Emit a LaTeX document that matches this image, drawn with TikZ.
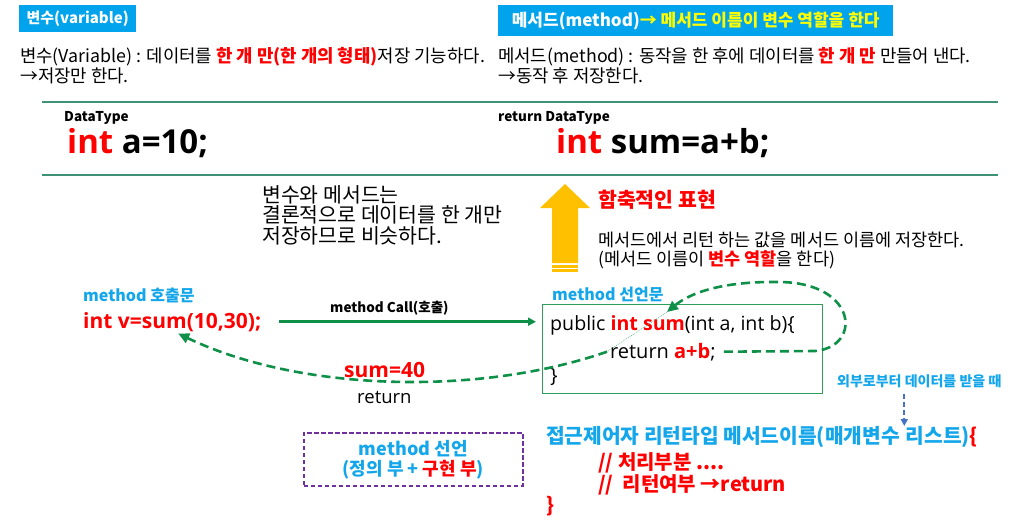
\documentclass[tikz,border=0pt]{standalone}
\usepackage{fontspec}
\setmainfont{Noto Sans CJK KR}
\newfontfamily\codefont{Open Sans}
\usetikzlibrary{positioning, arrows.meta, calc}
\definecolor{cHDR}{HTML}{00A3EC}
\definecolor{cBLUE}{HTML}{14A6EA}
\definecolor{cRED}{HTML}{FF0000}
\definecolor{cYEL}{HTML}{FFFF00}
\definecolor{cRULE}{HTML}{3F9177}
\definecolor{cBOX}{HTML}{2E9F5A}
\definecolor{cFLOW}{HTML}{0E9048}
\definecolor{cARROW}{HTML}{FFC000}
\definecolor{cHINT}{HTML}{4472C4}
\definecolor{cPURPLE}{HTML}{7030A0}
\newcommand{\setfs}[2]{\fontsize{#1}{#2}\selectfont}
\newcommand{\redb}[1]{{\color{cRED}\bfseries #1}}
\tikzset{
  hdrbox/.style={fill=cHDR, text=white, anchor=north west, inner sep=0pt},
  txt/.style n args={2}{anchor=north west, inner sep=0pt, align=left, font=\setfs{#1}{#2}},
  btxt/.style n args={2}{anchor=north west, inner sep=0pt, align=left, font=\bfseries\setfs{#1}{#2}},
  lbl/.style={anchor=base west, inner sep=0pt, font=\bfseries\setfs{#1}{#1}},
  code/.style={anchor=base west, inner sep=0pt, font=\codefont\setfs{#1}{#1}},
  bcode/.style={anchor=base west, inner sep=0pt, font=\codefont\bfseries\setfs{#1}{#1}},
  rule/.style={draw=cRULE, line width=1.2pt},
  declbox/.style={draw=cBOX, line width=1.3pt, minimum width=280pt, minimum height=89pt,
    anchor=north west, inner sep=0pt},
  notebox/.style={draw=cPURPLE, line width=1.5pt, dash pattern=on 4.5pt off 2.5pt,
    minimum width=219pt, minimum height=53pt, anchor=north west, align=center,
    text=cBLUE, font=\bfseries\setfs{18}{20}},
  callflow/.style={-{Triangle[length=8pt,width=8pt]}, draw=cFLOW, line width=2.6pt},
  retflow/.style={-{Triangle[length=11pt,width=10pt]}, draw=cFLOW, line width=2.6pt,
    dash pattern=on 9pt off 5pt},
  thinflow/.style={draw=cFLOW!70, line width=0.5pt, dash pattern=on 1pt off 1pt},
  hintflow/.style={-{Triangle[length=7pt,width=7pt]}, draw=cHINT, line width=2pt,
    dash pattern=on 5pt off 3pt}
}

\begin{document}
\begin{tikzpicture}[x=1pt, y=-1pt]
  \useasboundingbox (0,0) rectangle (1010,523);

  % headers
  \node[hdrbox, minimum width=117pt, minimum height=27pt, font=\bfseries\setfs{15}{15}] (varhdr) at (19,5) {변수(variable)};
  \node[hdrbox, minimum width=395pt, minimum height=31pt, font=\bfseries\setfs{17}{17}] (methhdr) at (498,5)
    {메서드(method){\color{cYEL}→ 메서드 이름이 변수 역할을 한다}};

  \node[txt={17.8}{20}] (vardesc) at (20,47) {변수(Variable) : 데이터를 \redb{한 개 만(한 개의 형태)}저장 기능하다.\\→저장만 한다.};
  \node[txt={17.8}{20}] (methdesc) at (498,47) {메서드(method) : 동작을 한 후에 데이터를 \redb{한 개 만} 만들어 낸다.\\→동작 후 저장한다.};

  \draw[rule] (42,102) -- (998,102);
  \draw[rule] (42,175) -- (998,175);

  % declarations
  \node[lbl=13.5] (vartype) at (64,121) {DataType};
  \node[bcode=33] (vardecl) at (67,153) {{\color{cRED}int} a=10;};
  \node[lbl=13.5] (methtype) at (498,121) {return DataType};
  \node[bcode=33] (methdecl) at (556,153) {{\color{cRED}int} sum=a+b;};

  \node[txt={20.5}{20.5}] (simnote) at (262,185) {변수와 메서드는\\결론적으로 데이터를 한 개만\\저장하므로 비슷하다.};

  % implicit
  \fill[cARROW] (552,263) -- (552,208) -- (540,208) -- (565,184) -- (590,208) -- (578,208) -- (578,263) -- cycle;
  \fill[cARROW] (552,265) rectangle (578,267.5);
  \fill[cARROW] (552,268.8) rectangle (578,271.5);
  \node[btxt={20.5}{20.5}, text=cRED] (implhdr) at (598,190) {함축적인 표현};
  \node[txt={17.5}{19}] (impldesc) at (598,232) {메서드에서 리턴 하는 값을 메서드 이름에 저장한다.\\(메서드 이름이 \redb{변수 역할}을 한다)};

  % call
  \node[btxt={16}{16}, text=cBLUE] (callhdr) at (83,288) {method 호출문};
  \node[bcode=21, text=cRED] (callstmt) at (83,328) {int v=sum(10,30);};
  \node[lbl=13.5] (calllbl) at (330,312) {method Call(호출)};

  \node[btxt={16}{16}, text=cBLUE] (declhdr) at (552,287) {method 선언문};
  \node[declbox] (declbox) at (542,304) {};
  \node[code=19.6] (publine) at (550,330) {public {\color{cRED}\bfseries int sum}(int a, int b)\{};
  \node[code=20] (retline) at (610,358) {return {\color{cRED}\bfseries a+b};};
  \node[code=20] (closeline) at (550,382) {\}};

  \node[bcode=21, text=cRED] (sumval) at (344,377) {sum=40};
  \node[code=18.5] (retword) at (357,403) {return};

  \draw[callflow] ([xshift=18pt]callstmt.east) -- ([xshift=-6pt]declbox.west |- callstmt.east);
  \coordinate (sumtip) at (667,312);
  \draw[retflow] ([xshift=8pt]retline.east) -- (815,351) .. controls (862,347) and (858,283) .. (780,282)
    .. controls (722,281) and (690,293) .. (sumtip);
  \draw[thinflow] (sumtip) -- ([xshift=-3pt]retline.west);
  \draw[retflow] ([xshift=-3pt]retline.west) .. controls (480,396) and (300,392) .. ([xshift=6pt,yshift=-2pt]callstmt.south);

  % syntax
  \node[btxt={14}{14}, text=cBLUE] (hint) at (837,374) {외부로부터 데이터를 받을 때};
  \node[notebox] (declnote) at (303,432) {method 선언\\(정의 부 + {\color{cRED}구현 부})};
  \node[btxt={20.3}{20.3}, text=cBLUE] (declhead) at (546,426) {접근제어자 리턴타입 메서드이름(매개변수\hspace{6pt}리스트){\color{cRED}\{}};
  \node[btxt={20}{20}, text=cRED] (declbody) at (598,452) {// 처리부분 ....};
  \node[btxt={20}{20}, text=cRED] (declret) at (598,474) {//\ \ 리턴여부 →return};
  \node[btxt={20}{20}, text=cRED] (declend) at (546,496) {\}};
  \draw[hintflow] ([xshift=-15pt,yshift=-6pt]hint.south) -- ([xshift=-15pt]hint.south |- declhead.north);
\end{tikzpicture}
\end{document}
